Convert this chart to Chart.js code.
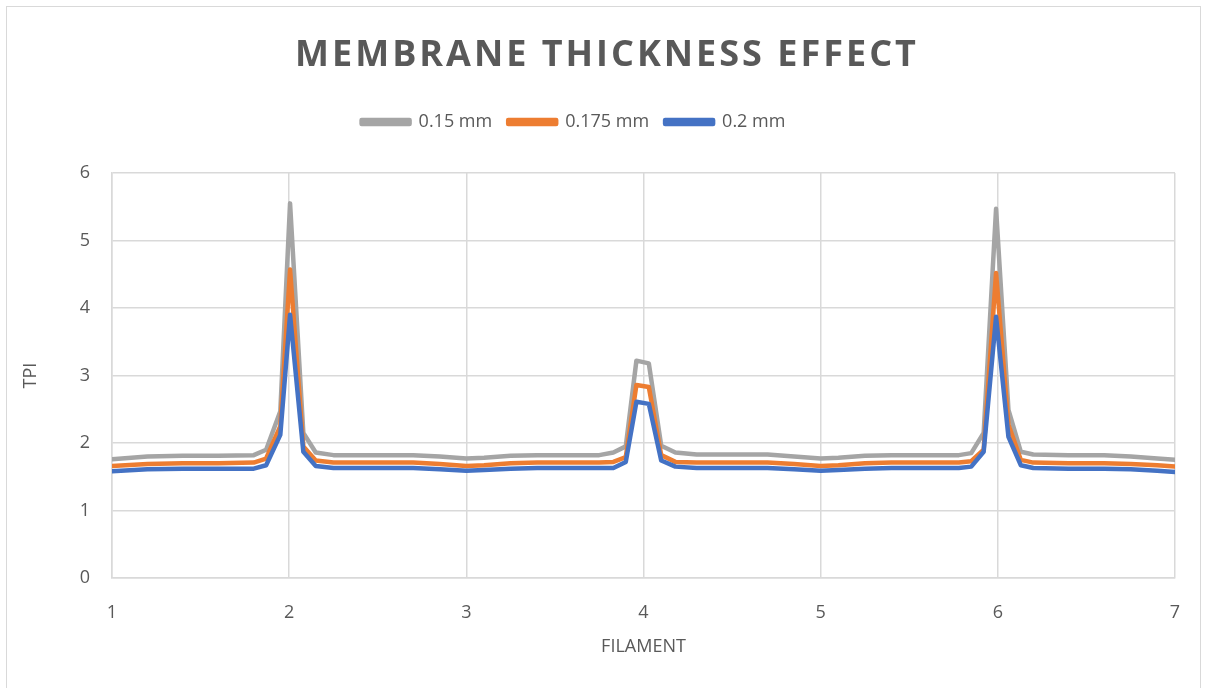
<!DOCTYPE html>
<html>
<head>
<meta charset="utf-8">
<title>Membrane Thickness Effect</title>
<script src="https://cdn.jsdelivr.net/npm/chart.js@4"></script>
<style>
  html, body { margin: 0; padding: 0; background: #fff; overflow: hidden; }
  .wrap { position: relative; width: 1205px; height: 688px; }
  .frame {
    position: absolute; left: 6px; top: 6px; width: 1193px; height: 700px;
    border: 1.5px solid #d9d9d9; pointer-events: none;
  }
  canvas { position: absolute; left: 0; top: 0; }
</style>
</head>
<body>
<div class="wrap">
  <canvas id="chart" width="1205" height="688"></canvas>
  <div class="frame"></div>
</div>
<script>
// filament position along the membrane
const filament = [1, 1.2, 1.4, 1.6, 1.8, 1.87, 1.95, 2.005, 2.08, 2.15, 2.25, 2.5, 2.7, 2.85,
  3, 3.1, 3.25, 3.4, 3.6, 3.75, 3.83, 3.9, 3.96, 4.03, 4.1, 4.18, 4.3, 4.5, 4.7, 4.85,
  5, 5.1, 5.25, 5.4, 5.6, 5.78, 5.85, 5.92, 5.99, 6.06, 6.13, 6.2, 6.4, 6.6, 6.75, 6.9, 7];

// TPI per membrane thickness
const tpi015 = [1.76, 1.80, 1.81, 1.81, 1.82, 1.90, 2.47, 5.55, 2.15, 1.86, 1.82, 1.82, 1.82, 1.80,
  1.77, 1.78, 1.81, 1.82, 1.82, 1.82, 1.86, 1.95, 3.22, 3.18, 1.96, 1.86, 1.83, 1.83, 1.83, 1.80,
  1.77, 1.78, 1.81, 1.82, 1.82, 1.82, 1.85, 2.15, 5.47, 2.49, 1.87, 1.83, 1.82, 1.82, 1.80, 1.77, 1.75];
const tpi0175 = [1.66, 1.69, 1.70, 1.70, 1.71, 1.77, 2.25, 4.57, 1.95, 1.74, 1.71, 1.71, 1.71, 1.69,
  1.66, 1.67, 1.70, 1.71, 1.71, 1.71, 1.72, 1.79, 2.86, 2.83, 1.82, 1.72, 1.71, 1.71, 1.71, 1.69,
  1.66, 1.67, 1.70, 1.71, 1.71, 1.71, 1.73, 1.90, 4.52, 2.27, 1.75, 1.71, 1.70, 1.70, 1.69, 1.67, 1.65];
const tpi02 = [1.58, 1.61, 1.62, 1.62, 1.62, 1.67, 2.12, 3.90, 1.87, 1.66, 1.63, 1.63, 1.63, 1.61,
  1.59, 1.60, 1.62, 1.63, 1.63, 1.63, 1.63, 1.72, 2.61, 2.58, 1.74, 1.65, 1.63, 1.63, 1.63, 1.61,
  1.59, 1.60, 1.62, 1.63, 1.63, 1.63, 1.65, 1.87, 3.87, 2.09, 1.67, 1.63, 1.62, 1.62, 1.61, 1.59, 1.57];

const xTicks = [1, 2, 3, 4, 5, 6, 7];
const yTicks = [0, 1, 2, 3, 4, 5, 6];

const textColor = "#595959";
const gridColor = "#d9d9d9";
const fontFamily = "'Open Sans', 'Liberation Sans', sans-serif";

const toPoints = ys => filament.map((x, i) => ({ x: x, y: ys[i] }));

const series = [
  { label: "0.15 mm", data: tpi015, color: "#A5A5A5", order: 2 },
  { label: "0.175 mm", data: tpi0175, color: "#ED7D31", order: 1 },
  { label: "0.2 mm", data: tpi02, color: "#4472C4", order: 0 }
];

// title drawn with letter spacing (not supported by the built-in title)
const spacedTitle = {
  id: "spacedTitle",
  afterDraw(chart) {
    const ctx = chart.ctx;
    ctx.save();
    ctx.font = "bold 36px " + fontFamily;
    ctx.fillStyle = textColor;
    ctx.textAlign = "center";
    ctx.textBaseline = "middle";
    ctx.letterSpacing = "3px";
    ctx.fillText("MEMBRANE THICKNESS EFFECT", 607, 56);
    ctx.restore();
  }
};

// extra room under the legend, and nudge it a bit left
const legendSpacing = {
  id: "legendSpacing",
  beforeInit(chart) {
    const fit = chart.legend.fit;
    chart.legend.fit = function () {
      fit.call(this);
      this.height += 32;
    };
  },
  afterLayout(chart) {
    chart.legend.left -= 19;
    chart.legend.right -= 19;
  }
};

new Chart(document.getElementById("chart"), {
  type: "line",
  data: {
    datasets: series.map(s => ({
      label: s.label,
      data: toPoints(s.data),
      borderColor: s.color,
      backgroundColor: s.color,
      borderWidth: 4.5,
      borderJoinStyle: "round",
      borderCapStyle: "round",
      pointRadius: 0,
      tension: 0,
      order: s.order
    }))
  },
  options: {
    responsive: false,
    animation: false,
    layout: { padding: { left: 10, right: 30, top: 97, bottom: 26 } },
    plugins: {
      tooltip: { enabled: false },
      legend: {
        position: "top",
        labels: {
          boxWidth: 48,
          boxHeight: 4,
          padding: 16,
          color: textColor,
          font: { family: fontFamily, size: 18 },
          sort: (a, b) => a.datasetIndex - b.datasetIndex
        }
      }
    },
    scales: {
      x: {
        type: "linear",
        min: 1,
        max: 7,
        afterBuildTicks: scale => { scale.ticks = xTicks.map(v => ({ value: v })); },
        afterFit: scale => { scale.height = 84; },
        grid: { color: gridColor, lineWidth: 1.5, drawTicks: false },
        border: { color: gridColor, width: 1.5 },
        ticks: { color: textColor, padding: 24, font: { family: fontFamily, size: 18 } },
        title: {
          display: true,
          text: "FILAMENT",
          color: textColor,
          font: { family: fontFamily, size: 18 },
          padding: { top: 4, bottom: 4 }
        }
      },
      y: {
        min: 0,
        max: 6,
        afterBuildTicks: scale => { scale.ticks = yTicks.map(v => ({ value: v })); },
        afterFit: scale => { scale.width = 102; },
        grid: { color: gridColor, lineWidth: 1.5, drawTicks: false },
        border: { color: gridColor, width: 1.5 },
        ticks: { color: textColor, padding: 22, font: { family: fontFamily, size: 18 } },
        title: {
          display: true,
          text: "TPI",
          color: textColor,
          font: { family: fontFamily, size: 18 },
          padding: { top: 10, bottom: 4 }
        }
      }
    }
  },
  plugins: [spacedTitle, legendSpacing]
});
</script>
</body>
</html>
